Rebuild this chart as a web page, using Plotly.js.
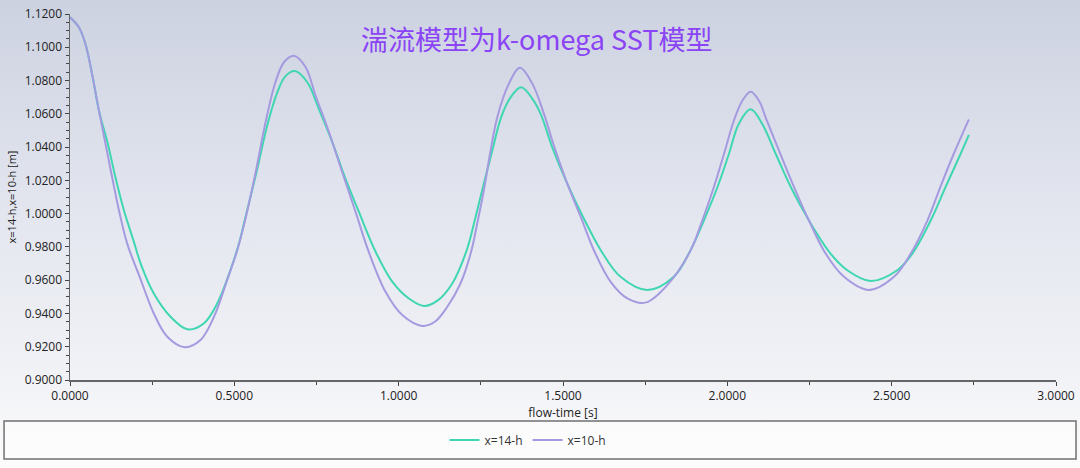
<!DOCTYPE html>
<html>
<head>
<meta charset="utf-8">
<script src="https://cdn.plot.ly/plotly-3.0.1.min.js"></script>
<style>
    html, body { margin: 0; padding: 0; }
    body {
        width: 1080px;
        height: 468px;
        background: linear-gradient( to bottom, #cdd2e1 0%, #e3e6ef 45%, #f1f2f6 80%, #fcfcfd 100% );
    }
</style>
</head>
<body>
<div id="placeholder"></div>
<script>
    'use strict';

    var chartTitle = '湍流模型为k-omega SST模型';
    var xTitle = 'flow-time [s]';
    var yTitle = 'x=14-h,x=10-h [m]';
    var seriesNames = [ 'x=14-h', 'x=10-h' ];

    // x=14-h
    var timeGreen = [ 0.000, 0.027, 0.047, 0.068, 0.088, 0.115, 0.138, 0.164, 0.196, 0.215, 0.255, 0.306,
        0.357, 0.407, 0.448, 0.488, 0.514, 0.534, 0.570, 0.600, 0.631, 0.655, 0.684, 0.722, 0.757, 0.798,
        0.838, 0.879, 0.930, 0.981, 1.031, 1.077, 1.120, 1.163, 1.207, 1.234, 1.259, 1.285, 1.312, 1.341,
        1.373, 1.407, 1.432, 1.467, 1.513, 1.561, 1.615, 1.675, 1.757, 1.837, 1.888, 1.929, 1.970, 2.005,
        2.035, 2.071, 2.106, 2.147, 2.193, 2.248, 2.314, 2.365, 2.436, 2.517, 2.563, 2.619, 2.664, 2.710, 2.735 ];
    var heightGreen = [ 1.118, 1.112, 1.102, 1.083, 1.062, 1.042, 1.022, 1.002, 0.982, 0.970, 0.952, 0.938,
        0.9305, 0.934, 0.946, 0.966, 0.982, 0.998, 1.027, 1.053, 1.073, 1.0825, 1.0857, 1.079, 1.063, 1.043,
        1.021, 1.001, 0.977, 0.959, 0.949, 0.9445, 0.948, 0.958, 0.978, 0.998, 1.018, 1.038, 1.058, 1.070,
        1.0759, 1.069, 1.060, 1.040, 1.018, 0.998, 0.978, 0.962, 0.9541, 0.962, 0.978, 0.996, 1.016, 1.036,
        1.054, 1.0627, 1.054, 1.036, 1.016, 0.996, 0.976, 0.966, 0.9595, 0.966, 0.976, 0.996, 1.016, 1.036, 1.0473 ];

    // x=10-h
    var timePurple = [ 0.000, 0.027, 0.047, 0.068, 0.088, 0.108, 0.128, 0.149, 0.174, 0.212, 0.255, 0.296,
        0.349, 0.397, 0.438, 0.478, 0.509, 0.534, 0.565, 0.595, 0.625, 0.651, 0.681, 0.717, 0.747, 0.788,
        0.828, 0.869, 0.909, 0.960, 1.011, 1.072, 1.110, 1.148, 1.188, 1.219, 1.241, 1.261, 1.278, 1.300,
        1.335, 1.369, 1.407, 1.442, 1.472, 1.513, 1.554, 1.594, 1.645, 1.696, 1.751, 1.817, 1.886, 1.924,
        1.959, 1.990, 2.020, 2.046, 2.071, 2.096, 2.120, 2.157, 2.203, 2.248, 2.299, 2.355, 2.431, 2.507,
        2.558, 2.609, 2.648, 2.689, 2.735 ];
    var heightPurple = [ 1.118, 1.112, 1.102, 1.083, 1.062, 1.042, 1.022, 1.002, 0.982, 0.962, 0.940, 0.926,
        0.9197, 0.924, 0.938, 0.960, 0.978, 0.997, 1.025, 1.055, 1.079, 1.091, 1.0949, 1.088, 1.071, 1.049,
        1.025, 1.001, 0.977, 0.953, 0.939, 0.9325, 0.935, 0.944, 0.958, 0.976, 0.996, 1.016, 1.036, 1.058,
        1.078, 1.0877, 1.078, 1.060, 1.041, 1.018, 0.998, 0.978, 0.959, 0.949, 0.9465, 0.957, 0.977, 0.996,
        1.016, 1.036, 1.056, 1.068, 1.0733, 1.068, 1.056, 1.038, 1.016, 0.996, 0.976, 0.962, 0.9541, 0.962,
        0.976, 0.996, 1.016, 1.036, 1.0567 ];

    var makeLine = ( name, x, y, color ) => {
        return {
            name: name,
            x: x,
            y: y,
            type: 'scatter',
            mode: 'lines',
            line: { color: color, width: 2, shape: 'spline', smoothing: 1 }
        };
    };

    var data = [
        makeLine( seriesNames[0], timeGreen, heightGreen, '#3fd6b2' ),
        makeLine( seriesNames[1], timePurple, heightPurple, '#a59ae0' )
    ];

    var tickFont = { family: 'Open Sans', size: 12, color: '#222' };

    var layout = {
        width: 1080,
        height: 468,
        margin: { l: 70, r: 24, t: 14, b: 88, pad: 0 },
        paper_bgcolor: 'rgba(0,0,0,0)',
        plot_bgcolor: 'rgba(0,0,0,0)',
        font: { family: 'Open Sans', color: '#222' },
        title: {
            text: chartTitle,
            font: { family: 'Noto Sans CJK SC', size: 27, color: '#8a44f5' },
            xref: 'container', x: 0.497, xanchor: 'center',
            yref: 'container', y: 0.914, yanchor: 'middle'
        },
        xaxis: {
            range: [ 0, 3 ],
            tick0: 0, dtick: 0.5,
            tickformat: '.4f',
            ticks: 'outside', ticklen: 4, tickcolor: '#444',
            minor: { dtick: 0.25, ticks: 'outside', ticklen: 3, tickcolor: '#444', showgrid: false },
            showline: true, linecolor: '#666', linewidth: 1.5,
            showgrid: false, zeroline: false,
            tickfont: tickFont,
            automargin: false,
            title: { text: xTitle, font: { family: 'Open Sans', size: 12, color: '#222' }, standoff: 5 }
        },
        yaxis: {
            range: [ 0.9, 1.12 ],
            tick0: 0.9, dtick: 0.02,
            tickformat: '.4f',
            ticks: 'outside', ticklen: 4, tickcolor: '#444',
            minor: { dtick: 0.005, ticks: 'outside', ticklen: 3, tickcolor: '#444', showgrid: false },
            showline: true, linecolor: '#666', linewidth: 1.5,
            showgrid: false, zeroline: false,
            tickfont: tickFont,
            automargin: false,
            title: { text: yTitle, font: { family: 'Open Sans', size: 11, color: '#222' }, standoff: 6 }
        },
        showlegend: true,
        legend: {
            orientation: 'h',
            xref: 'paper', x: 0.4645, xanchor: 'center',
            yref: 'paper', y: -0.164, yanchor: 'middle',
            bgcolor: 'rgba(0,0,0,0)',
            itemwidth: 30,
            font: { family: 'Open Sans', size: 12, color: '#333' }
        },
        // legend frame spans the whole width
        shapes: [ {
            type: 'rect', xref: 'paper', yref: 'paper', layer: 'below',
            x0: -0.0669, x1: 1.0203, y0: -0.2158, y1: -0.112,
            line: { color: '#707070', width: 1.5 },
            fillcolor: 'rgba(255,255,255,0.45)'
        } ],
        hovermode: false
    };

    Plotly.newPlot( 'placeholder', data, layout, { staticPlot: true, displayModeBar: false } );
</script>
</body>
</html>
